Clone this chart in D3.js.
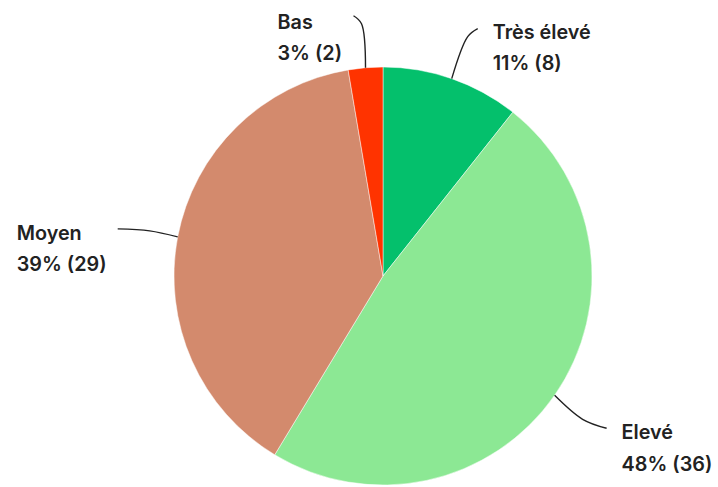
<!DOCTYPE html>
<html><head><meta charset="utf-8">
<script src="https://cdn.jsdelivr.net/npm/d3@7"></script>
<style>
html,body{margin:0;padding:0;background:#fff;}
svg{display:block;}
text{font-family:Inter,"Noto Sans",sans-serif;font-weight:600;fill:#222;}
</style></head>
<body>
<svg id="chart" width="718" height="487"></svg>
<script>
const categories = ["Très élevé", "Elevé", "Moyen", "Bas"];
const counts = [8, 36, 29, 2];
const percentLabels = ["11%", "48%", "39%", "3%"];
const colors = ["#04c06c", "#8ce894", "#d38a6d", "#ff3300"];

const W = 718, H = 487;
const cx = 383, cy = 276, R = 209;

// label layout: leader elbow/end offsets and text offset from leader end
const layout = [
  {elbow:[16,-42], end:[26,-50], tx:15, ty:10},
  {elbow:[28,24], end:[52,33], tx:15, ty:11},
  {elbow:[-28,-6], end:[-60,-8], tx:-101, ty:11},
  {elbow:[-4,-44], end:[-12,-52], tx:-76, ty:13}
];

const svg = d3.select("#chart");
const g = svg.append("g").attr("transform", `translate(${cx},${cy})`);

const pie = d3.pie().sort(null).value(d => d);
const arcs = pie(counts);
const arc = d3.arc().innerRadius(0).outerRadius(R);

g.selectAll("path.slice").data(arcs).enter().append("path")
  .attr("class","slice")
  .attr("d", arc)
  .attr("fill", (d,i) => colors[i])
  .attr("stroke", "rgba(255,255,255,0.6)")
  .attr("stroke-width", 0.8);

const lineGen = d3.line().curve(d3.curveCatmullRom.alpha(0.5));

arcs.forEach((d,i) => {
  const a = (d.startAngle + d.endAngle)/2;
  const sx = Math.sin(a)*R, sy = -Math.cos(a)*R;
  const L = layout[i];
  const pts = [[sx,sy],[sx+L.elbow[0], sy+L.elbow[1]],[sx+L.end[0], sy+L.end[1]]];
  g.append("path").attr("d", lineGen(pts))
    .attr("fill","none").attr("stroke","#222").attr("stroke-width",1.4);
  const ex = sx+L.end[0]+L.tx, ey = sy+L.end[1]+L.ty;
  const t = g.append("text").attr("x", ex).attr("y", ey).style("font-size","19.8px");
  t.append("tspan").attr("x", ex).attr("dy", 0).text(categories[i]);
  t.append("tspan").attr("x", ex).attr("dy", 31.5).text(`${percentLabels[i]} (${counts[i]})`);
});
</script>
</body></html>
